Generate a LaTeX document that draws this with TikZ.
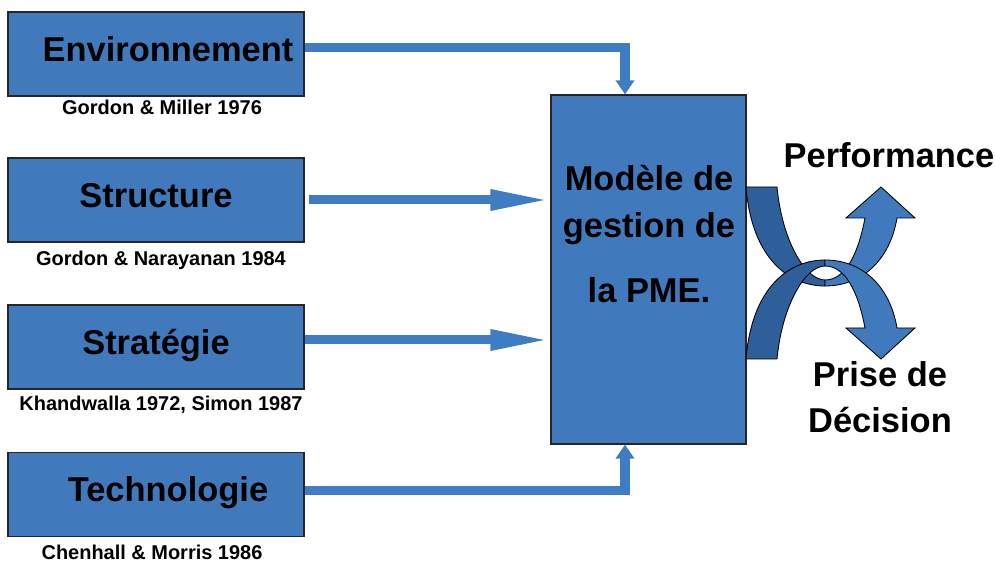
\documentclass[tikz,border=0pt]{standalone}
\usepackage{fontspec}
\setmainfont{Liberation Sans}
\usetikzlibrary{arrows.meta}

\definecolor{boxblue}{RGB}{64,122,189}
\definecolor{lineblue}{RGB}{62,124,196}
\definecolor{darkblue}{RGB}{46,95,154}

\tikzset{
  factor/.style={draw=black!85, line width=0.8pt, fill=boxblue, minimum width=7.4cm, minimum height=2.1cm,
    text height=17.5pt, text depth=7pt, font=\fontsize{24.5}{29}\selectfont\bfseries},
  ref/.style={font=\fontsize{14.2}{17}\selectfont\bfseries},
  big/.style={font=\fontsize{24.5}{33.4}\selectfont\bfseries, align=center},
  link/.style={lineblue, line width=0.225cm},
  hlink/.style={link, -{Triangle[width=0.475cm,length=1.5cm]}},
  vlink/.style={link, -{Triangle[width=0.45cm,length=0.35cm]}},
  back/.style={fill=darkblue, draw=black, line width=0.6pt},
  front/.style={fill=boxblue, draw=black, line width=0.6pt}
}

\begin{document}
\begin{tikzpicture}[x=0.025cm,y=-0.025cm]
\useasboundingbox (0,0) rectangle (995,563);

% factors
\node[factor] (env) at (156,54) {\hspace*{0.6cm}Environnement};
\node[factor] (struct) at (156,200) {Structure};
\node[factor] (strat) at (156,347) {Stratégie};
\node[factor] (tech) at (156,494.5) {\hspace*{0.6cm}Technologie};

\node[ref] (envref) at (162,107) {Gordon \& Miller 1976};
\node[ref] (structref) at (161,260) {Gordon \& Narayanan 1984};
\node[ref] (stratref) at (161,405) {Khandwalla 1972, Simon 1987};
\node[ref] (techref) at (152,552) {Chenhall \& Morris 1986};

% central model
\node[draw=black!85, line width=0.8pt, fill=boxblue, minimum width=4.875cm, minimum height=8.725cm] (main) at (648.5,269.5) {};
\node[big, anchor=base] (mtext) at (649,303) {Modèle de\\gestion de\\[13.5pt]la PME.};

\draw[vlink] (env.east |- 0,47.5) -| ([xshift=-0.5875cm]main.north);
\draw[hlink] (struct.east |- 0,200) ++(4,0) -- (main.west |- 0,200);
\draw[hlink] (strat.east |- 0,340) -- (main.west |- 0,340);
\draw[vlink] (tech.east |- 0,491) -| ([xshift=-0.5875cm]main.south);

% crossing curved arrows
\filldraw[back] (746,187) .. controls (752,260) and (790,286) .. (825,286) -- (825,280)
  .. controls (805,280) and (782,240) .. (777,187) -- cycle;
\filldraw[front] (825,286) .. controls (862,286) and (890,260) .. (897,218) -- (915,218) -- (881,187)
  -- (846,218) -- (865,218) .. controls (858,255) and (845,280) .. (825,280) -- cycle;
\filldraw[back] (746,359) .. controls (752,286) and (790,260) .. (825,260) -- (825,266)
  .. controls (805,266) and (782,306) .. (777,359) -- cycle;
\filldraw[front] (825,260) .. controls (862,260) and (890,286) .. (897,328) -- (915,328) -- (881,359)
  -- (846,328) -- (865,328) .. controls (858,291) and (845,266) .. (825,266) -- cycle;

\node[big, anchor=base] (perf) at (889,168) {Performance};
\node[big, anchor=base] (decis) at (880,433) {Prise de\\Décision};

\end{tikzpicture}
\end{document}
